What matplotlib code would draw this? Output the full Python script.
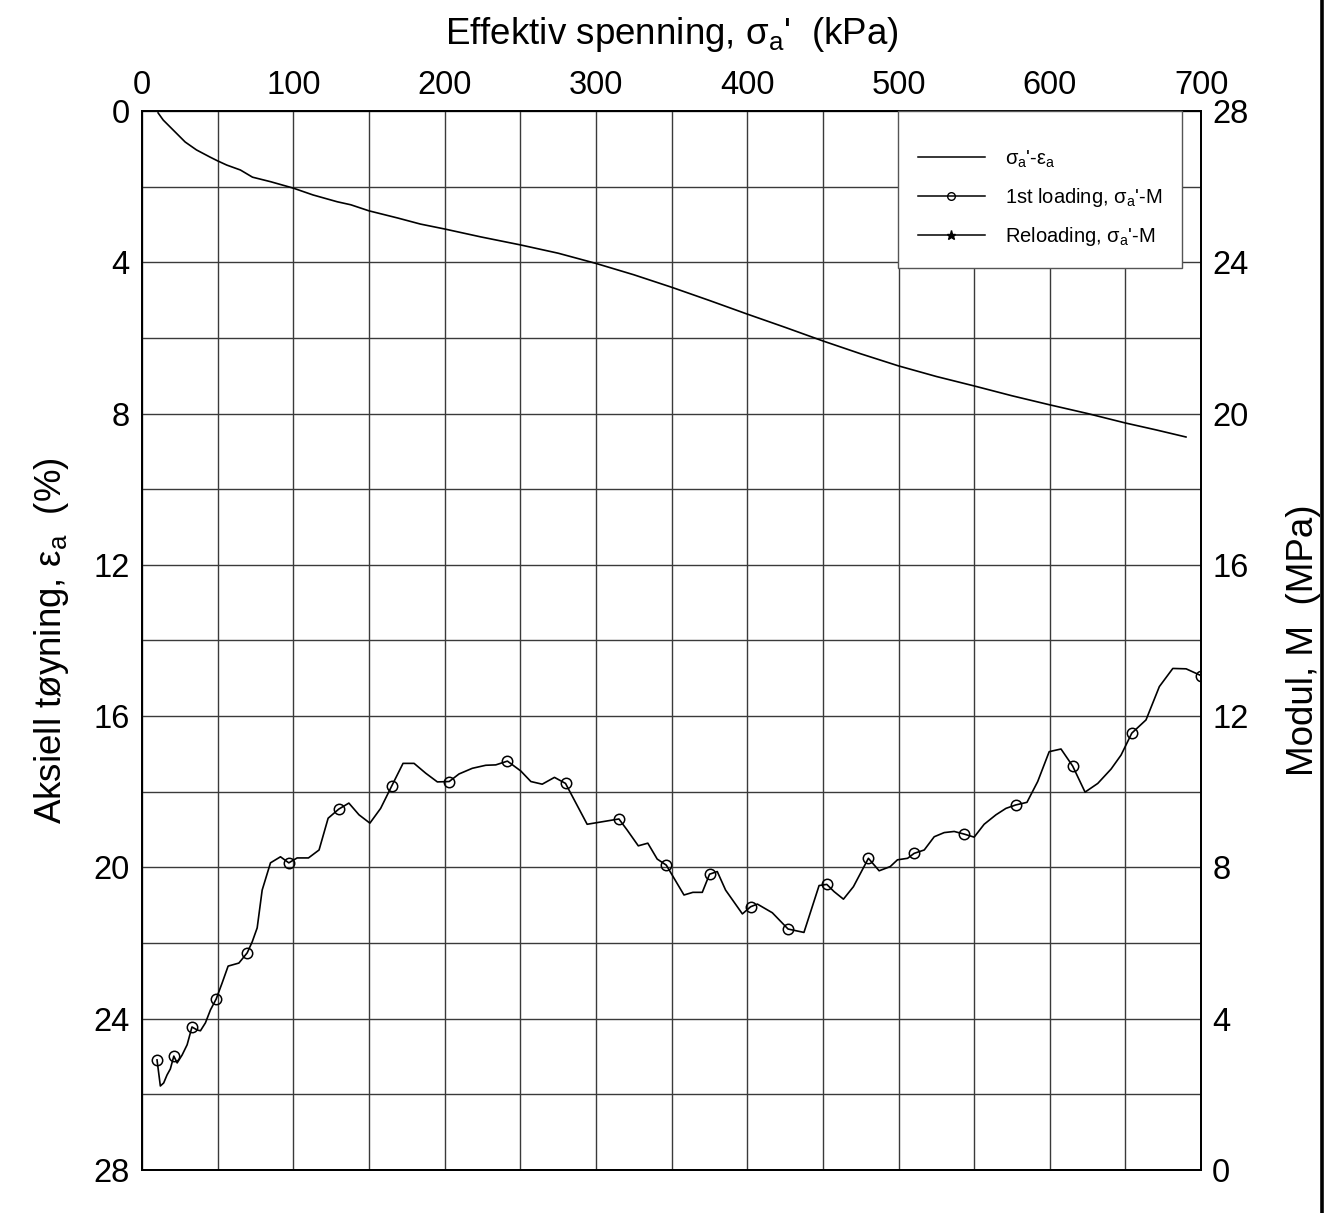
#!/usr/bin/env python3
"""
Oedometer test: axial strain and constrained modulus vs effective stress
"""

import matplotlib
matplotlib.use('Agg')
import matplotlib.pyplot as plt
from matplotlib.lines import Line2D
from matplotlib.ticker import MultipleLocator

# sigma_a' - eps_a curve (kPa, %)
stress_strain = [10.6, 14, 20.5, 28.5, 36, 45, 50, 56, 65, 73, 85, 100, 113, 129,
                 138, 150, 169, 184, 200, 224, 250, 275, 300, 325, 350, 375, 400,
                 425, 450, 475, 500, 525, 550, 575, 600, 625, 650, 670, 690]
strain = [0.05, 0.24, 0.50, 0.82, 1.03, 1.22, 1.32, 1.43, 1.56, 1.75, 1.87, 2.04,
          2.22, 2.40, 2.48, 2.64, 2.83, 2.99, 3.12, 3.33, 3.54, 3.76, 4.03, 4.33,
          4.66, 5.01, 5.37, 5.72, 6.08, 6.42, 6.74, 7.02, 7.27, 7.53, 7.77, 8.00,
          8.25, 8.43, 8.62]

# 1st loading, sigma_a' - M (kPa, MPa)
stress_mod = [9.9, 12.1, 14.3, 16.5, 18.7, 21.0, 23.2, 26.5, 29.8, 33.0, 36.4, 38.6,
              41.9, 45.2, 49.0, 52.9, 56.9, 64.0, 69.5, 72.8, 76.1, 79.4, 84.9, 91.5,
              97.0, 102.5, 110.0, 117.0, 123.0, 130.0, 136.7, 143.4, 150.6, 157.7,
              165.0, 172.5, 179.8, 187.5, 195.2, 203.0, 209.5, 218.3, 227.2, 233.8,
              241.5, 250.3, 257.0, 264.5, 272.6, 279.9, 294.2, 315.2, 320.6, 328.0,
              334.3, 340.5, 346.5, 358.2, 364.1, 370.3, 375.1, 380.2, 385.7, 396.8,
              402.3, 406.7, 416.6, 427.0, 437.5, 447.5, 452.6, 457.4, 463.6, 470.2,
              480.1, 487.2, 494.5, 499.3, 506.0, 510.3, 517.0, 523.6, 530.2, 536.8,
              543.4, 550.0, 556.6, 564.4, 571.0, 577.4, 584.9, 592.0, 599.6, 607.4,
              615.1, 623.3, 631.7, 640.5, 647.1, 654.2, 663.6, 672.4, 681.3, 690.1,
              700.0]
modulus = [2.91, 2.22, 2.30, 2.51, 2.67, 3.01, 2.83, 3.04, 3.31, 3.78, 3.70, 3.68,
           3.89, 4.23, 4.52, 4.94, 5.39, 5.47, 5.74, 6.03, 6.40, 7.40, 8.12, 8.28,
           8.12, 8.25, 8.25, 8.46, 9.30, 9.54, 9.70, 9.39, 9.17, 9.56,
           10.15, 10.75, 10.75, 10.49, 10.26, 10.27, 10.47, 10.62, 10.70, 10.71,
           10.81, 10.55, 10.27, 10.20, 10.38, 10.22, 9.14, 9.28, 8.99, 8.57,
           8.64, 8.22, 8.06, 7.27, 7.34, 7.34, 7.82, 7.89, 7.40, 6.77,
           6.96, 7.03, 6.80, 6.37, 6.28, 7.52, 7.55, 7.36, 7.16, 7.49,
           8.24, 7.91, 8.02, 8.20, 8.24, 8.37, 8.46, 8.81, 8.92, 8.95,
           8.88, 8.80, 9.14, 9.39, 9.56, 9.65, 9.72, 10.27, 11.06, 11.13,
           10.68, 9.99, 10.22, 10.60, 10.97, 11.55, 11.90, 12.78, 13.26, 13.25,
           13.07]
# readings that carry a marker
marked = [0, 5, 9, 14, 18, 24, 29, 34, 39, 44, 49, 51, 56, 60, 64, 67, 70, 74,
          79, 84, 89, 94, 99, 104]

x_ticks = [0, 100, 200, 300, 400, 500, 600, 700]
y_ticks = [0, 4, 8, 12, 16, 20, 24, 28]

SIG = r"$\mathregular{\sigma_a}$"
EPS = r"$\mathregular{\epsilon_a}$"


def make_plot(output_file):
    plt.rcParams['font.family'] = ['Liberation Sans', 'DejaVu Sans']
    plt.rcParams['mathtext.fontset'] = 'custom'
    plt.rcParams['mathtext.rm'] = 'Liberation Sans'

    fig = plt.figure(figsize=(13.35, 12.13), dpi=100)
    ax = fig.add_axes([0.1064, 0.0355, 0.7933, 0.8730])
    ax2 = ax.twinx()

    fs = 23.5      # tick labels
    lfs = 26.5     # axis titles
    grid_c = '#3a3a3a'

    # left axis: strain, inverted
    ax.set_xlim(0, 700)
    ax.set_ylim(28, 0)
    ax.xaxis.tick_top()
    ax.xaxis.set_label_position('top')
    ax.set_xticks(x_ticks)
    ax.set_yticks(y_ticks)
    ax.xaxis.set_minor_locator(MultipleLocator(50))
    ax.yaxis.set_minor_locator(MultipleLocator(2))
    ax.grid(True, which='both', color=grid_c, lw=1.0)
    ax.set_axisbelow(True)
    ax.tick_params(which='both', length=0, labelsize=fs)
    ax.tick_params(axis='x', pad=7)
    ax.tick_params(axis='y', pad=9)

    ax.set_xlabel("Effektiv spenning, " + SIG + "'  (kPa)", fontsize=lfs, labelpad=19)
    ax.set_ylabel("Aksiell tøyning, " + EPS + "  (%)", fontsize=lfs, labelpad=16)

    ax.plot(stress_strain, strain, color='black', lw=1.2)

    # right axis: modulus
    ax2.set_ylim(0, 28)
    ax2.set_yticks(y_ticks)
    ax2.tick_params(length=0, labelsize=fs, pad=8)
    ax2.set_ylabel("Modul, M  (MPa)", fontsize=lfs, rotation=90, labelpad=27)
    ax2.plot(stress_mod, modulus, color='black', lw=1.2, marker='o', ms=7.5,
             mfc='none', mew=1.1, markevery=marked)

    for a in (ax, ax2):
        for s in a.spines.values():
            s.set_linewidth(1.3)
            s.set_color('black')

    handles = [
        Line2D([], [], color='black', lw=1.1),
        Line2D([], [], color='black', lw=1.1, marker='o', ms=5.5, mfc='none', mew=1.0),
        Line2D([], [], color='black', lw=1.1, marker='*', ms=6.5),
    ]
    labels = [SIG + "'-" + EPS,
              "1st loading, " + SIG + "'-M",
              "Reloading, " + SIG + "'-M"]
    # blank title just opens a little space above the first entry
    leg = ax2.legend(handles, labels, loc='upper right', bbox_to_anchor=(0.982, 1.0),
                     borderaxespad=0, fontsize=14.5, fancybox=False, framealpha=1,
                     edgecolor='#555555', handlelength=3.3, handletextpad=1.0,
                     labelspacing=0.8, borderpad=1.0, title=' ', title_fontsize=1)
    leg.get_frame().set_linewidth(1.0)

    # heavy rule along the right edge of the sheet
    fig.add_artist(Line2D([0.9905, 0.9905], [0, 1], color='black', lw=2.6,
                          transform=fig.transFigure))

    fig.savefig(output_file, dpi=100)
    plt.close(fig)


def main():
    make_plot('out.png')


if __name__ == "__main__":
    main()
